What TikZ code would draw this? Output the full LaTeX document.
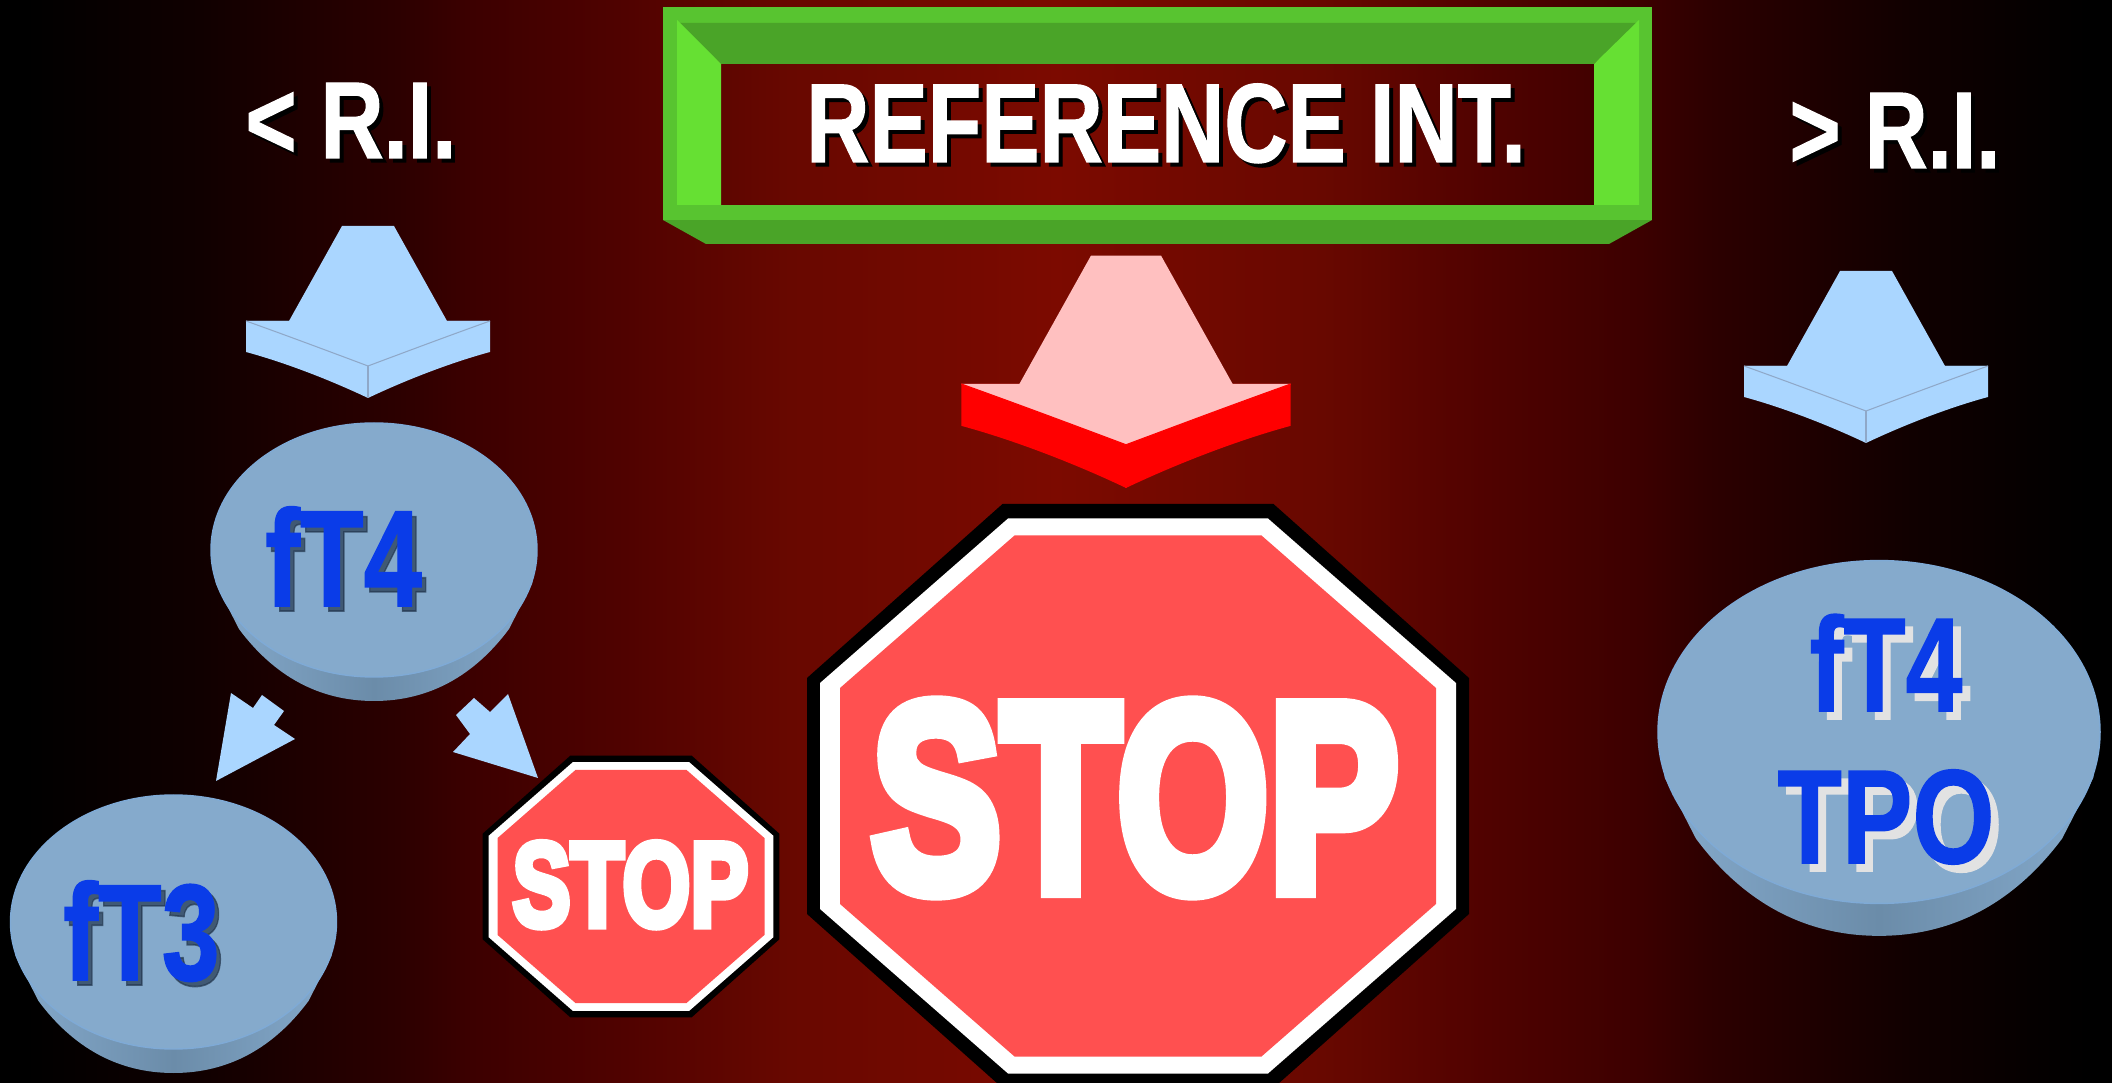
\documentclass[tikz,border=0pt]{standalone}
\usepackage{fontspec}
\setmainfont{Liberation Sans}[BoldFeatures={FakeBold=1.2}]
\newfontfamily\stopfont{Liberation Sans}[UprightFont=* Bold, UprightFeatures={FakeBold=6}]
\definecolor{frameside}{HTML}{66E033}
\definecolor{framestrip}{HTML}{58C430}
\definecolor{framedark}{HTML}{4AA428}
\definecolor{skyblue}{HTML}{AAD6FF}
\definecolor{seamblue}{HTML}{8FA8C8}
\definecolor{palered}{HTML}{FFC0C0}
\definecolor{signred}{HTML}{FF5050}
\definecolor{discface}{HTML}{85AACC}
\definecolor{discside}{HTML}{6B8CA9}
\definecolor{discrim}{HTML}{7FAAD6}
\definecolor{fblue}{HTML}{0A3CE8}
\definecolor{softshadow}{HTML}{24384F}
\definecolor{paleshadow}{HTML}{E2E2E2}
\pgfdeclarehorizontalshading{backfade}{100bp}{
  rgb(0bp)=(0,0,0); rgb(25.6bp)=(0,0,0); rgb(29.75bp)=(.063,0,0); rgb(34.45bp)=(.173,0,0);
  rgb(36.15bp)=(.235,0,0); rgb(39.8bp)=(.314,.008,0); rgb(43.7bp)=(.408,.031,0); rgb(50bp)=(.486,.039,0);
  rgb(56.3bp)=(.408,.031,0); rgb(60.2bp)=(.314,.008,0); rgb(63.85bp)=(.235,0,0); rgb(65.55bp)=(.173,0,0);
  rgb(70.25bp)=(.063,0,0); rgb(74.4bp)=(0,0,0); rgb(100bp)=(0,0,0)}
\newcommand{\sized}[3]{\scalebox{#1}[1]{\fontsize{#2}{#2}\selectfont #3}}
\tikzset{
  tag/.style={anchor=base, inner sep=0pt, font=\bfseries},
  signtag/.style={anchor=base, inner sep=0pt, font=\stopfont, text=white},
  disctop/.style={fill=discface, draw=discrim, line width=0.4pt},
  discwall/.style={left color=discface, right color=discface, middle color=discside}
}
\begin{document}
\begin{tikzpicture}[x=0.01cm, y=-0.01cm]
  \useasboundingbox (0,0) rectangle (2112,1083);
  \clip (0,0) rectangle (2112,1083);
  \shade[shading=backfade] (0,0) rectangle (2112,1083);

  % frame round the title
  \fill[framedark] (663,220) -- (1652,220) -- (1609,244) -- (706,244) -- cycle;
  \fill[framestrip] (663,205) rectangle (1652,220);
  \fill[framestrip] (663,7) rectangle (1652,23);
  \fill[framestrip] (663,7) rectangle (677,220);
  \fill[framestrip] (1639,7) rectangle (1652,220);
  \fill[framedark] (677,23) -- (1639,23) -- (1594,64) -- (721,64) -- cycle;
  \fill[frameside] (677,20) -- (721,64) -- (721,205) -- (677,205) -- cycle;
  \fill[frameside] (1639,20) -- (1594,64) -- (1594,205) -- (1639,205) -- cycle;

  % block arrows: x, y of the wings, scale, colours
  \foreach \ax/\ay/\as/\atop/\afront/\aseam in {368/321/1/skyblue/skyblue/seamblue,
      1866/366/1/skyblue/skyblue/seamblue, 1126/384/1.35/palered/red/red} {
    \begin{scope}[shift={(\ax,\ay)}, scale=\as]
      \fill[\afront] (-122,0) -- (-122,31) .. controls (-85,41) and (-40,58) .. (0,77)
        .. controls (40,58) and (85,41) .. (122,31) -- (122,0) -- cycle;
      \fill[\atop] (-26,-95) -- (26,-95) -- (79,0) -- (122,0)
        .. controls (80,15) and (40,30) .. (0,45)
        .. controls (-40,30) and (-80,15) .. (-122,0) -- (-79,0) -- cycle;
      \draw[\aseam, line width=0.3pt] (-122,0) .. controls (-80,15) and (-40,30) .. (0,45)
        .. controls (40,30) and (80,15) .. (122,0);
      \draw[\aseam, line width=0.3pt] (0,45) -- (0,77);
    \end{scope}
  }

  % small arrows under the first disc
  \fill[skyblue] (216,781) -- (231,693) -- (253,708) -- (262,695) -- (284,711) -- (274,725) -- (295,739) -- cycle;
  \fill[skyblue] (538,778) -- (508,694) -- (490,712) -- (474,698) -- (456,715) -- (470,734) -- (453,752) -- cycle;

  % discs
  \foreach \dx/\dy/\dsx/\dsy in {374/550/1/1, 173.5/922/1/1, 1879/732/1.356/1.35} {
    \begin{scope}[shift={(\dx,\dy)}, xscale=\dsx, yscale=\dsy]
      \shade[discwall] (-163,0) -- (-158,34) -- (-135,79) .. controls (-100,126) and (-55,151) .. (0,151)
        .. controls (55,151) and (100,126) .. (135,79) -- (158,34) -- (163,0) -- cycle;
      \filldraw[disctop] (0,0) ellipse (163 and 127);
    \end{scope}
  }

  % stop signs
  \foreach \sx/\sy/\ss in {1138/796/1, 631/886.5/0.448} {
    \begin{scope}[shift={(\sx,\sy)}, scale=\ss]
      \foreach \hw/\hh/\ew/\eh/\shcol in {331/292/135.5/118/black, 318/277.5/130/113/white, 298/260.5/123.5/108/signred}
        \fill[\shcol] (-\ew,-\hh) -- (\ew,-\hh) -- (\hw,-\eh) -- (\hw,\eh) -- (\ew,\hh) -- (-\ew,\hh) -- (-\hw,\eh) -- (-\hw,-\eh) -- cycle;
    \end{scope}
  }
  \node[signtag] (stopbig) at (1135,890) {\sized{0.73}{76}{STOP}};
  \node[signtag] (stopsmall) at (630.5,926) {\sized{0.73}{34}{STOP}};

  % title and the two side labels
  \node[tag, text=black] (titleshade) at (1170,166) {\sized{0.78}{31.9}{REFERENCE INT.}};
  \node[tag, text=white] (title) at (1166,162) {\sized{0.78}{31.9}{REFERENCE INT.}};
  \node[tag, text=black] (lowshade) at (355,162) {\sized{0.8}{31}{< R.I.}};
  \node[tag, text=white] (low) at (351,158) {\sized{0.8}{31}{< R.I.}};
  \node[tag, text=black] (highshade) at (1899,172) {\sized{0.8}{31}{> R.I.}};
  \node[tag, text=white] (high) at (1895,168) {\sized{0.8}{31}{> R.I.}};

  % disc labels
  \node[tag, text=softshadow, text opacity=0.7] (midshade) at (348,611) {\sized{0.76}{39}{fT4}};
  \node[tag, text=fblue] (mid) at (343.5,606) {\sized{0.76}{39}{fT4}};
  \node[tag, text=softshadow, text opacity=0.7] (leftshade) at (146,985) {\sized{0.76}{39}{fT3}};
  \node[tag, text=fblue] (left) at (141.5,980) {\sized{0.76}{39}{fT3}};
  \node[tag, text=paleshadow] (rightshade) at (1894,719) {\sized{0.76}{38}{fT4}};
  \node[tag, text=fblue] (right) at (1886,711) {\sized{0.76}{38}{fT4}};
  \node[tag, text=paleshadow] (tposhade) at (1894,871) {\sized{0.79}{38}{TPO}};
  \node[tag, text=fblue] (tpo) at (1886,863) {\sized{0.79}{38}{TPO}};
\end{tikzpicture}
\end{document}
